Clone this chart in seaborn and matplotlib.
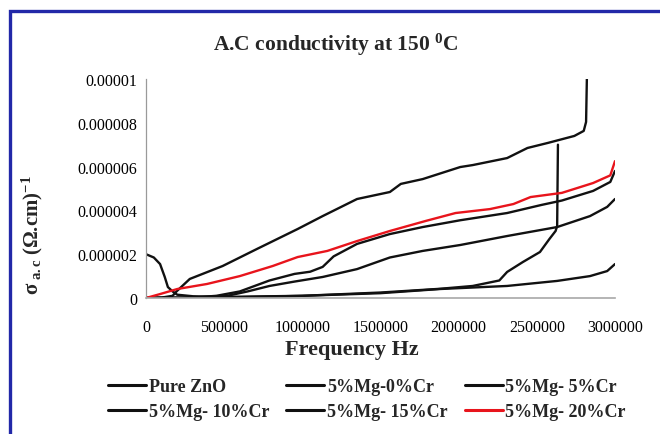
import matplotlib
matplotlib.use("Agg")
import numpy as np
import pandas as pd
import matplotlib.pyplot as plt
import seaborn as sns
from matplotlib.lines import Line2D
from matplotlib.patches import Rectangle

# ---------------- data (frequency in Hz, conductivity in (ohm.cm)^-1) ----------------
series_names = ["Pure ZnO", "5%Mg-0%Cr", "5%Mg- 5%Cr", "5%Mg- 10%Cr", "5%Mg- 15%Cr", "5%Mg- 20%Cr"]
series_colors = ["#111111", "#111111", "#111111", "#111111", "#111111", "#e8141c"]

freq_pure_zno = [0, 0.05e6, 0.09e6, 0.12e6, 0.14e6, 0.17e6, 0.2e6, 0.3e6, 0.5e6, 1.0e6, 1.5e6,
                 1.88e6, 2.31e6, 2.63e6, 2.84e6, 2.95e6, 3.0e6]
sigma_pure_zno = [2.0e-6, 1.85e-6, 1.55e-6, 0.96e-6, 0.5e-6, 0.3e-6, 0.15e-6, 0.08e-6, 0.05e-6, 0.1e-6,
                  0.22e-6, 0.41e-6, 0.55e-6, 0.78e-6, 1.0e-6, 1.23e-6, 1.55e-6]

freq_mg0_cr0 = [0, 0.5e6, 1.0e6, 1.5e6, 1.88e6, 2.09e6, 2.26e6, 2.31e6, 2.41e6, 2.52e6, 2.58e6,
                2.62e6, 2.63e6, 2.635e6]
sigma_mg0_cr0 = [0, 0.02e-6, 0.1e-6, 0.25e-6, 0.42e-6, 0.55e-6, 0.8e-6, 1.19e-6, 1.64e-6, 2.1e-6,
                 2.69e-6, 3.06e-6, 3.29e-6, 7.0e-6]

freq_mg5_cr5 = [0, 0.3e6, 0.52e6, 0.65e6, 0.79e6, 0.95e6, 1.13e6, 1.35e6, 1.56e6, 1.77e6, 2.01e6,
                2.31e6, 2.63e6, 2.84e6, 2.95e6, 3.0e6]
sigma_mg5_cr5 = [0, 0.02e-6, 0.1e-6, 0.3e-6, 0.55e-6, 0.75e-6, 0.96e-6, 1.32e-6, 1.85e-6, 2.15e-6,
                 2.42e-6, 2.83e-6, 3.24e-6, 3.74e-6, 4.16e-6, 4.52e-6]

freq_mg5_cr10 = [0, 0.1e6, 0.17e6, 0.198e6, 0.28e6, 0.49e6, 0.71e6, 0.97e6, 1.13e6, 1.35e6, 1.56e6,
                 1.63e6, 1.77e6, 2.01e6, 2.09e6, 2.31e6, 2.44e6, 2.57e6, 2.74e6, 2.80e6, 2.815e6, 2.82e6]
sigma_mg5_cr10 = [0, 0.02e-6, 0.1e-6, 0.32e-6, 0.87e-6, 1.46e-6, 2.24e-6, 3.15e-6, 3.74e-6, 4.52e-6,
                  4.84e-6, 5.21e-6, 5.43e-6, 5.98e-6, 6.07e-6, 6.39e-6, 6.85e-6, 7.08e-6, 7.40e-6,
                  7.63e-6, 8.04e-6, 10.0e-6]

freq_mg5_cr15 = [0, 0.3e6, 0.45e6, 0.6e6, 0.79e6, 0.95e6, 1.05e6, 1.13e6, 1.2e6, 1.35e6, 1.56e6,
                 1.77e6, 2.01e6, 2.31e6, 2.53e6, 2.66e6, 2.86e6, 2.97e6, 3.0e6]
sigma_mg5_cr15 = [0, 0.02e-6, 0.1e-6, 0.3e-6, 0.8e-6, 1.1e-6, 1.2e-6, 1.42e-6, 1.9e-6, 2.47e-6,
                  2.92e-6, 3.24e-6, 3.55e-6, 3.88e-6, 4.25e-6, 4.45e-6, 4.89e-6, 5.3e-6, 5.8e-6]

freq_mg5_cr20 = [0, 0.09e6, 0.2e6, 0.39e6, 0.6e6, 0.81e6, 0.97e6, 1.16e6, 1.35e6, 1.56e6, 1.79e6,
                 1.98e6, 2.2e6, 2.35e6, 2.46e6, 2.66e6, 2.86e6, 2.97e6, 3.0e6]
sigma_mg5_cr20 = [0, 0.18e-6, 0.41e-6, 0.64e-6, 1.0e-6, 1.46e-6, 1.87e-6, 2.15e-6, 2.6e-6, 3.06e-6,
                  3.52e-6, 3.88e-6, 4.06e-6, 4.29e-6, 4.61e-6, 4.8e-6, 5.25e-6, 5.6e-6, 6.25e-6]

x_ticks = [0, 500000, 1000000, 1500000, 2000000, 2500000, 3000000]
x_tick_labels = ["0", "500000", "1000000", "1500000", "2000000", "2500000", "3000000"]
y_ticks = [0, 0.000002, 0.000004, 0.000006, 0.000008, 0.00001]
y_tick_labels = ["0", "0.000002", "0.000004", "0.000006", "0.000008", "0.00001"]

title_text = "A.C conductivity at 150 $^{\\mathbf{0}}$C"
xlabel_text = "Frequency Hz"
ylabel_text = "$\\mathbf{σ}_{\\ \\mathbf{a.c}}$ (Ω.cm)$^{\\mathbf{-1}}$"

# ---------------- style ----------------
sns.set_theme(style="white")
plt.rcParams["font.family"] = ["Liberation Serif", "DejaVu Serif"]
plt.rcParams["mathtext.fontset"] = "custom"
plt.rcParams["mathtext.rm"] = "Liberation Serif"
plt.rcParams["mathtext.bf"] = "Liberation Serif:bold"
plt.rcParams["mathtext.it"] = "Liberation Serif:italic"

W, H = 660, 435
fig = plt.figure(figsize=(W / 100, H / 100), dpi=100)
fig.patch.set_facecolor("white")

# blue frame around chart
fig.add_artist(Rectangle((9.5 / W, -0.05), (W + 20) / W, (H - 11.5) / H + 0.05,
                         transform=fig.transFigure, fill=False, edgecolor="#2228a8", lw=2.4))

ax = fig.add_axes([146 / W, 1 - 299 / H, (615 - 146) / W, (299 - 80) / H])
ax.set_facecolor("white")

all_freq = [freq_pure_zno, freq_mg0_cr0, freq_mg5_cr5, freq_mg5_cr10, freq_mg5_cr15, freq_mg5_cr20]
all_sigma = [sigma_pure_zno, sigma_mg0_cr0, sigma_mg5_cr5, sigma_mg5_cr10, sigma_mg5_cr15, sigma_mg5_cr20]
frames = []
for name, f, s in zip(series_names, all_freq, all_sigma):
    frames.append(pd.DataFrame({"Frequency": f, "sigma": s, "series": name}))
df = pd.concat(frames, ignore_index=True)

sns.lineplot(data=df, x="Frequency", y="sigma", hue="series", hue_order=series_names,
             palette=dict(zip(series_names, series_colors)), estimator=None, sort=False,
             lw=1.7, ax=ax, legend=False)

ax.set_xlim(0, 3000000)
ax.set_ylim(0, 0.00001)
ax.set_xticks(x_ticks)
ax.set_xticklabels(x_tick_labels)
ax.set_yticks(y_ticks)
ax.set_yticklabels(y_tick_labels)
ax.set_xlabel("")
ax.set_ylabel("")
ax.tick_params(axis="x", length=0, labelsize=11.5, pad=15, colors="black")
ax.tick_params(axis="y", length=0, labelsize=11.5, pad=6.5, colors="black")
for sp in ["top", "right"]:
    ax.spines[sp].set_visible(False)
ax.spines["left"].set_color("#9a9a9a")
ax.spines["bottom"].set_color("#a8a8a8")
ax.spines["left"].set_linewidth(0.9)
ax.spines["bottom"].set_linewidth(1.2)

fig.text(336 / W, 1 - 45 / H, title_text, ha="center", va="center", fontsize=15.5, fontweight="bold")
fig.text(352 / W, 1 - 350 / H, xlabel_text, ha="center", va="center", fontsize=16, fontweight="bold")
fig.text(32 / W, 1 - 235 / H, ylabel_text, ha="center", va="center", rotation=90,
         fontsize=15, fontweight="bold")

# legend: column-major order so rows read as in the original
order = [0, 3, 1, 4, 2, 5]
handles = [Line2D([], [], color=series_colors[i], lw=2.2) for i in order]
labels = [series_names[i] for i in order]
fig.legend(handles, labels, ncol=3, loc="center", bbox_to_anchor=(367 / W, 1 - 400 / H),
           frameon=False, prop={"weight": "bold", "size": 13}, handlelength=2.1,
           handletextpad=0.15, columnspacing=0.95, labelspacing=0.45)

fig.savefig("out.png", dpi=100, facecolor="white")
